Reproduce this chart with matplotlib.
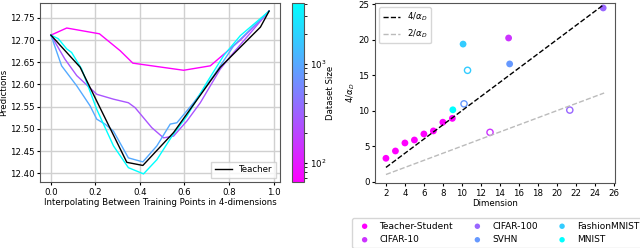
import matplotlib
matplotlib.use('Agg')
import matplotlib.pyplot as plt
from matplotlib.colors import LogNorm
import numpy as np

plt.rcParams['font.family'] = ['DejaVu Sans']
plt.rcParams['font.size'] = 6.2

# ---------------- left panel data ----------------
dataset_sizes = [64, 256, 1024, 4096]

x_64 = [0.0, 0.071, 0.218, 0.311, 0.368, 0.596, 0.716, 0.851, 0.98]
y_64 = [12.711, 12.727, 12.714, 12.676, 12.648, 12.632, 12.642, 12.700, 12.765]

x_256 = [0.0, 0.063, 0.116, 0.206, 0.281, 0.348, 0.378, 0.453, 0.506, 0.551, 0.611, 0.671, 0.761, 0.821, 0.98]
y_256 = [12.711, 12.657, 12.620, 12.578, 12.567, 12.559, 12.548, 12.503, 12.480, 12.484, 12.518, 12.559, 12.635, 12.672, 12.765]

x_1024 = [0.0, 0.048, 0.116, 0.176, 0.206, 0.243, 0.281, 0.348, 0.413, 0.476, 0.536, 0.566, 0.641, 0.731, 0.821, 0.98]
y_1024 = [12.711, 12.642, 12.597, 12.552, 12.522, 12.511, 12.495, 12.435, 12.426, 12.462, 12.511, 12.514, 12.559, 12.620, 12.687, 12.765]

x_4096 = [0.0, 0.033, 0.071, 0.093, 0.138, 0.206, 0.281, 0.348, 0.416, 0.476, 0.544, 0.611, 0.701, 0.776, 0.851, 0.98]
y_4096 = [12.711, 12.703, 12.680, 12.672, 12.635, 12.544, 12.462, 12.413, 12.399, 12.431, 12.484, 12.529, 12.605, 12.665, 12.710, 12.765]

teacher_x = [0.0, 0.131, 0.341, 0.413, 0.551, 0.761, 0.941, 0.98]
teacher_y = [12.711, 12.639, 12.425, 12.418, 12.492, 12.639, 12.729, 12.765]

curves_x = [x_64, x_256, x_1024, x_4096]
curves_y = [y_64, y_256, y_1024, y_4096]

# ---------------- right panel data ----------------
datasets = ['Teacher-Student', 'CIFAR-10', 'CIFAR-100', 'SVHN', 'FashionMNIST', 'MNIST']
cool_pos = [1.0, 0.8, 0.6, 0.4, 0.2, 0.0]

ts_dim = [2, 3, 4, 5, 6, 7, 8, 9]
ts_val = [3.29, 4.32, 5.45, 5.87, 6.72, 7.15, 8.38, 8.92]

filled_dim = {'CIFAR-10': [14.93], 'CIFAR-100': [24.9], 'SVHN': [15.04],
              'FashionMNIST': [10.13], 'MNIST': [9.05]}
filled_val = {'CIFAR-10': [20.26], 'CIFAR-100': [24.5], 'SVHN': [16.6],
              'FashionMNIST': [19.4], 'MNIST': [10.13]}

open_dim = {'CIFAR-10': [12.97], 'CIFAR-100': [21.38], 'SVHN': [10.23],
            'FashionMNIST': [10.6]}
open_val = {'CIFAR-10': [6.95], 'CIFAR-100': [10.09], 'SVHN': [10.97],
            'FashionMNIST': [15.7]}

line_x = [2, 25]

# ---------------- figure ----------------
fig = plt.figure(figsize=(6.4, 2.48), dpi=100)
ax1 = fig.add_axes([0.0625, 0.266, 0.375, 0.722])
cax = fig.add_axes([0.456, 0.266, 0.019, 0.722])
ax2 = fig.add_axes([0.586, 0.262, 0.375, 0.726])

cmap = plt.get_cmap('cool_r')
norm = LogNorm(vmin=64, vmax=4096)

ax1.grid(True, color='#d0d0d0', linewidth=1.0)
ax1.set_axisbelow(True)
for xs, ys, n in zip(curves_x, curves_y, dataset_sizes):
    ax1.plot(xs, ys, color=cmap(norm(n)), linewidth=1.0)
ax1.plot(teacher_x, teacher_y, color='black', linewidth=1.0, label='Teacher')
ax1.set_xlabel('Interpolating Between Training Points in 4-dimensions', labelpad=1)
ax1.set_ylabel('Predictions', labelpad=1)
ax1.set_xticks([0.0, 0.2, 0.4, 0.6, 0.8, 1.0])
ax1.set_yticks([12.40, 12.45, 12.50, 12.55, 12.60, 12.65, 12.70, 12.75])
ax1.legend(loc='lower right', fontsize=6.2, fancybox=False)
ax1.tick_params(length=2.5, pad=1.5)
for s in ax1.spines.values():
    s.set_color('#555555')

sm = plt.cm.ScalarMappable(cmap=cmap, norm=norm)
cb = fig.colorbar(sm, cax=cax)
cb.set_label('Dataset Size', labelpad=0)
cb.ax.tick_params(length=2.5, pad=1.5)
cb.outline.set_edgecolor('#555555')

# right panel
l1, = ax2.plot(line_x, [v for v in line_x], color='black', linestyle='--', linewidth=1.0,
               label=r'$4/\alpha_D$')
l2, = ax2.plot(line_x, [v / 2 for v in line_x], color='#bbbbbb', linestyle='--', linewidth=1.0,
               label=r'$2/\alpha_D$')

handles = []
for name, p in zip(datasets, cool_pos):
    c = plt.get_cmap('cool')(p)
    if name == 'Teacher-Student':
        h = ax2.scatter(ts_dim, ts_val, s=24, color=c, edgecolors='none', label=name)
    else:
        h = ax2.scatter(filled_dim[name], filled_val[name], s=24, color=c,
                        edgecolors='none', label=name)
        if name in open_dim:
            ax2.scatter(open_dim[name], open_val[name], s=20, facecolors='none',
                        edgecolors=[c], linewidths=1.0)
    handles.append(h)

ax2.set_xlabel('Dimension', labelpad=1)
ax2.set_ylabel(r'$4/\alpha_D$', labelpad=1)
ax2.set_xticks(list(range(2, 27, 2)))
ax2.set_yticks([0, 5, 10, 15, 20, 25])
ax2.set_ylim(-0.2, 25.2)
ax2.tick_params(length=2.5, pad=1.5)
for s in ax2.spines.values():
    s.set_color('#555555')
ax2.legend(handles=[l1, l2], loc='upper left', fontsize=6.2, handlelength=2.0)

fig.legend(handles=handles, labels=datasets, loc='upper left', ncol=3,
           bbox_to_anchor=(352 / 640, 1 - 218 / 248), borderaxespad=0,
           fontsize=6.5, columnspacing=1.7, handletextpad=0.63, handlelength=2.0,
           markerscale=0.8)

fig.savefig('out.png', dpi=100)
